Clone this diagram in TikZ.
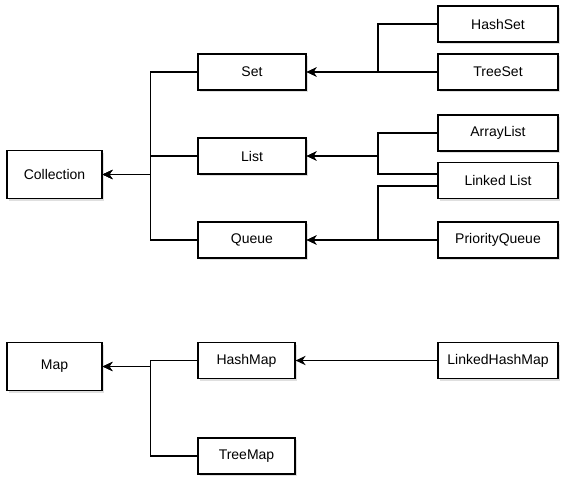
\documentclass[tikz,border=0pt]{standalone}
\usepackage{fontspec}
\setmainfont{Liberation Sans}
\usetikzlibrary{arrows.meta,shadows,calc}
\begin{document}
\begin{tikzpicture}[x=0.75pt,y=-0.75pt,
  box/.style={draw=black,fill=white,line width=0.9pt,inner sep=0pt,
    font=\fontsize{10.5pt}{12pt}\selectfont,
    drop shadow={shadow xshift=1.6pt,shadow yshift=-1.8pt,fill=black!70,opacity=0.18}},
  small/.style={box,minimum width=81pt,minimum height=27pt},
  wide/.style={box,minimum width=90pt,minimum height=27pt},
  big/.style={box,minimum width=71.25pt,minimum height=35.5pt},
  link/.style={draw=black,line width=0.9pt},
  arr/.style={link,-{Stealth[length=7.5pt,width=7pt,inset=2.4pt]}}]
\useasboundingbox (0,0) rectangle (573,489);
% nodes
\node[big] (coll) at (54.5,174.5) {Collection};
\node[small] (set) at (252,72) {Set};
\node[small] (list) at (252,156) {List};
\node[small] (queue) at (252,240) {Queue};
\node[wide] (hashset) at (498,24) {HashSet};
\node[wide] (treeset) at (498,72) {TreeSet};
\node[wide] (arraylist) at (498,133) {ArrayList};
\node[wide] (linked) at (498,180.5) {Linked List};
\node[wide] (pq) at (498,240) {PriorityQueue};
\node[big] (map) at (54.5,366.5) {Map};
\node[box,minimum width=72.75pt,minimum height=27pt] (hashmap) at (246.5,360.5) {HashMap};
\node[box,minimum width=72.75pt,minimum height=27pt] (treemap) at (246.5,456) {TreeMap};
\node[wide] (lhm) at (498,360.5) {LinkedHashMap};
% junctions
\coordinate (jc) at (150.5,174.5);
\coordinate (js) at (378,72);
\coordinate (jl) at (378,156);
\coordinate (jq) at (378,240);
\coordinate (jm) at (150.5,366.5);
\coordinate (ll1) at ($(linked.west)+(0,-6.5)$);
\coordinate (ll2) at ($(linked.west)+(0,5.5)$);
% connectors: Collection
\draw[arr] (set.west) -| (jc) -- (coll.east);
\draw[arr] (list.west) -| (jc) -- (coll.east);
\draw[arr] (queue.west) -| (jc) -- (coll.east);
% Set
\draw[arr] (hashset.west) -| (js) -- (set.east);
\draw[arr] (treeset.west) -- (set.east);
% List
\draw[arr] (arraylist.west) -| (jl) -- (list.east);
\draw[arr] (ll1) -| (jl) -- (list.east);
% Queue
\draw[arr] (ll2) -| (jq) -- (queue.east);
\draw[arr] (pq.west) -- (queue.east);
% Map
\draw[arr] (hashmap.west) -| (jm) -- (map.east);
\draw[arr] (treemap.west) -| (jm) -- (map.east);
\draw[arr] (lhm.west) -- (hashmap.east);
\end{tikzpicture}
\end{document}
